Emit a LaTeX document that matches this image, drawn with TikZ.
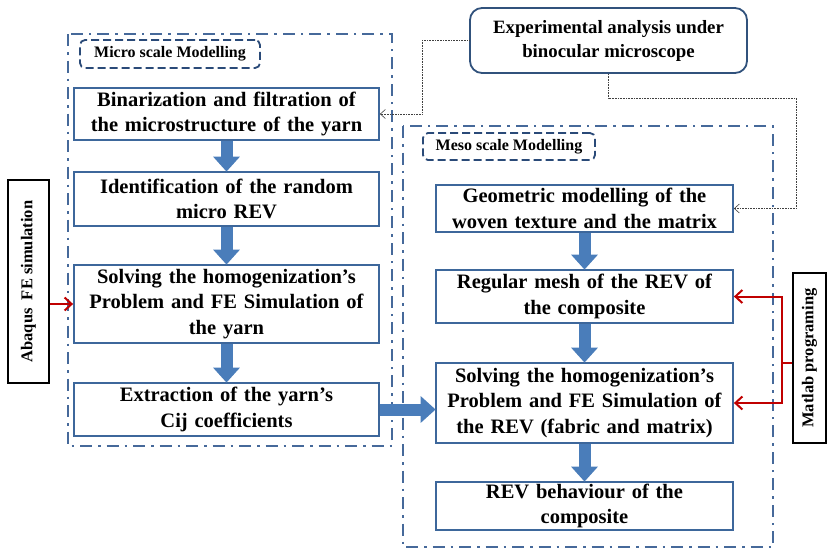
\documentclass[tikz,border=0pt]{standalone}
\usepackage{fontspec}
\setmainfont{Liberation Serif}
\usepackage{xcolor}
\usetikzlibrary{positioning, arrows.meta, calc}

\definecolor{boxblue}{HTML}{3D679B}
\definecolor{frameblue}{HTML}{46699A}
\definecolor{tagblue}{HTML}{2A4A78}
\definecolor{flowblue}{HTML}{4A7DBA}
\definecolor{linkred}{HTML}{C00000}

\tikzset{
	step box/.style={draw=boxblue, line width=1.8pt, fill=white, align=center, text width=#1, inner sep=0pt,
		font=\bfseries\fontsize{20.5}{25.5}\selectfont},
	step box/.default=300pt,
	frame/.style={draw=frameblue, line width=2.8pt, dash pattern=on 12pt off 6pt on 2.5pt off 6pt},
	tag/.style={draw=tagblue, line width=1.8pt, dashed, dash pattern=on 8pt off 4pt, rounded corners=5pt,
		font=\bfseries\fontsize{16}{18}\selectfont, inner sep=0pt},
	tool/.style={draw=black, line width=2pt, fill=white, rotate=90, inner sep=0pt,
		font=\bfseries\fontsize{16.5}{18}\selectfont},
	flow/.style={draw=flowblue, line width=12pt, -{Triangle[width=26pt, length=15pt]}, shorten >=-0.5pt},
	feed/.style={draw=linkred, line width=2pt, -{Straight Barb[length=7pt, width=13pt, line width=2pt]}},
	dotlink/.style={draw=black!75, line width=0.6pt, densely dotted, -{Straight Barb[length=5pt, width=9pt]}}
}

\begin{document}
\begin{tikzpicture}[x=1pt, y=-1pt]
	\useasboundingbox (0,0) rectangle (827,550);

	% scale frames
	\draw [frame] (68,34) rectangle (392,446);
	\draw [frame] (403,126) rectangle (773,547);
	\node [tag, minimum width=180pt, minimum height=28pt] (microtag) at (170,54) {Micro scale Modelling};
	\node [tag, minimum width=172pt, minimum height=27pt] (mesotag) at (509,146.5) {Meso scale Modelling};

	% micro scale steps
	\node [step box, minimum width=305pt, minimum height=52pt] (bin) at (226.5,114) {Binarization and filtration of\\ the microstructure of the yarn};
	\node [step box, minimum width=305pt, minimum height=54pt] (ident) at (226.5,199) {Identification of the random\\ micro REV};
	\node [step box, minimum width=305pt, minimum height=78pt] (yarnsolve) at (226.5,304) {Solving the homogenization’s\\ Problem and FE Simulation of\\ the yarn};
	\node [step box, minimum width=305pt, minimum height=53pt] (cij) at (226.5,409.5) {Extraction of the yarn’s\\ Cij coefficients};

	% meso scale steps
	\node [step box=295pt, minimum width=297pt, minimum height=47pt] (geom) at (584.5,208.5) {Geometric modelling of the\\ woven texture and the matrix};
	\node [step box=295pt, minimum width=297pt, minimum height=53pt] (mesh) at (584.5,296.5) {Regular mesh of the REV of\\ the composite};
	\node [step box=295pt, minimum width=297pt, minimum height=80pt] (revsolve) at (584.5,403) {Solving the homogenization’s\\ Problem and FE Simulation of\\ the REV (fabric and matrix)};
	\node [step box=295pt, minimum width=297pt, minimum height=48pt] (behav) at (584.5,506) {REV behaviour of the\\ composite};

	% outside inputs
	\node [draw=boxblue!80!black, line width=1.8pt, rounded corners=12pt, minimum width=277pt, minimum height=65pt,
		align=center, font=\bfseries\fontsize{18.8}{24}\selectfont] (expe) at (608.5,40.5) {Experimental analysis under\\ binocular microscope};
	\node [tool, minimum width=203pt, minimum height=41pt] (abaqus) at (28.5,281.5) {Abaqus\ \ FE simulation};
	\node [tool, minimum width=170pt, minimum height=33pt] (matlab) at (809.5,358) {Matlab programing};

	% block arrows
	\draw [flow] (bin) -- (ident);
	\draw [flow] (ident) -- (yarnsolve);
	\draw [flow] (yarnsolve) -- (cij);
	\draw [flow] (cij.east) -- (cij.east -| revsolve.west);
	\draw [flow] (geom) -- (mesh);
	\draw [flow] (mesh) -- (revsolve);
	\draw [flow] (revsolve) -- (behav);

	% software links
	\draw [feed] (abaqus.south |- yarnsolve.west) -- (yarnsolve.west);
	\draw [feed] ([yshift=-5pt]matlab.north) -- ++(-10,0) coordinate (split) |- (mesh.east);
	\draw [feed] (split) |- (revsolve.east);

	% observation links
	\coordinate (bend) at (796,98);
	\draw [dotlink] (expe.west) -- ++(-47,0) |- (bin.east);
	\draw [dotlink] (expe.south) |- (bend) |- (geom.east);
\end{tikzpicture}
\end{document}
